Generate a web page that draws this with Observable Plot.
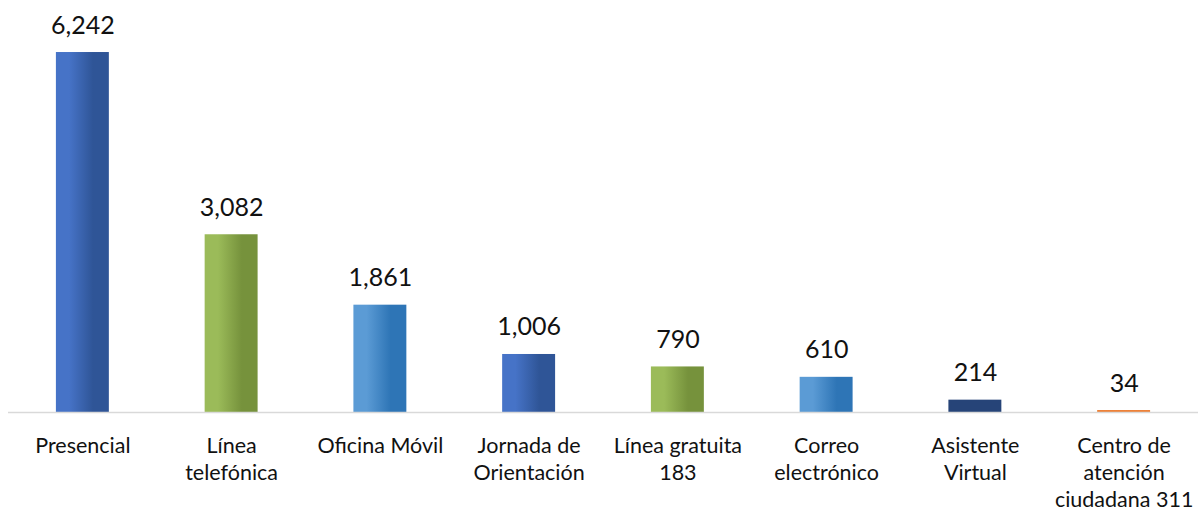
<!DOCTYPE html>
<html>
<head>
<meta charset="utf-8">
<script src="https://cdn.jsdelivr.net/npm/d3@7"></script>
<script src="https://cdn.jsdelivr.net/npm/@observablehq/plot@0.6"></script>
<style>
  html, body { margin: 0; padding: 0; background: #fff; }
  #chart { width: 1198px; height: 513px; }
</style>
</head>
<body>
<div id="chart"></div>
<script>
const categories = [
  "Presencial",
  "Línea\ntelefónica",
  "Oficina Móvil",
  "Jornada de\nOrientación",
  "Línea gratuita\n183",
  "Correo\nelectrónico",
  "Asistente\nVirtual",
  "Centro de\natención\nciudadana 311"
];
const values = [6242, 3082, 1861, 1006, 790, 610, 214, 34];
const fillIds = ["gBlue", "gGreen", "gLight", "gBlue", "gGreen", "gLight", "gNavy", "gOrange"];

const gradients = {
  gBlue: ["#4673C7", "#2F5597"],
  gGreen: ["#9BBB59", "#76923C"],
  gLight: ["#5B9BD5", "#2E75B6"],
  gNavy: ["#264478", "#264478"],
  gOrange: ["#ED7D31", "#ED7D31"]
};

const data = categories.map((c, i) => ({cat: c, value: values[i], fill: `url(#${fillIds[i]})`}));

const chart = Plot.plot({
  width: 1198,
  height: 513,
  marginTop: 0,
  marginBottom: 101,
  marginLeft: 8,
  marginRight: 0,
  x: {domain: categories, paddingInner: 0.644, paddingOuter: 0.322, round: false, axis: null, label: null},
  y: {domain: [0, 7144], axis: null, label: null},
  color: {type: "identity"},
  style: {fontFamily: "Lato, 'Open Sans', sans-serif", background: "#fff"},
  marks: [
    Plot.barY(data, {x: "cat", y: "value", fill: "fill"}),
    Plot.ruleY([0], {stroke: "#d9d9d9", strokeWidth: 1.5}),
    Plot.text(data, {x: "cat", y: "value", text: d => d3.format(",")(d.value), dy: -27, fontSize: 25, fill: "#111"}),
    Plot.axisX({tickSize: 0, tickPadding: 22, fontSize: 21.5, lineHeight: 1.24, color: "#111", label: null, tickFormat: d => d})
  ]
});

const defs = d3.select(chart).insert("defs", ":first-child");
for (const [id, [c0, c1]] of Object.entries(gradients)) {
  const g = defs.append("linearGradient").attr("id", id).attr("x1", 0).attr("x2", 1).attr("y1", 0).attr("y2", 0);
  g.append("stop").attr("offset", "0%").attr("stop-color", c0);
  g.append("stop").attr("offset", "25%").attr("stop-color", c0);
  g.append("stop").attr("offset", "70%").attr("stop-color", c1);
  g.append("stop").attr("offset", "100%").attr("stop-color", c1);
}

document.getElementById("chart").append(chart);
</script>
</body>
</html>
